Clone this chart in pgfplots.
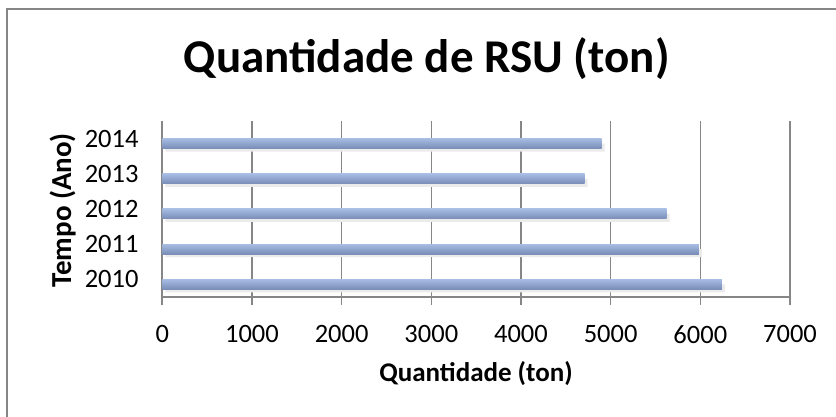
\documentclass[border=0pt]{standalone}
\usepackage{fontspec}
\setmainfont{Carlito}
\usepackage{pgfplots}
\pgfplotsset{compat=1.18}

\definecolor{gridgray}{RGB}{134,134,134}
\definecolor{bartop}{RGB}{166,188,226}
\definecolor{barbot}{RGB}{120,140,182}

\pgfplotsset{
    rsubar/.style={xbar, bar width=10pt, bar shift=-5pt, draw=none,
        top color=bartop, bottom color=barbot},
    rsushadow/.style={xbar, bar width=8pt, bar shift=-9pt, draw=none,
        fill=black!8, xshift=3pt, forget plot},
}

\begin{document}
\begin{tikzpicture}
\useasboundingbox (0,0) rectangle (836pt,417pt);
\draw[gridgray, line width=1.5pt] (7pt,408pt) rectangle (900pt,-50pt);

\begin{axis}[
    at={(162.3pt,120pt)}, anchor=south west,
    scale only axis, width=627.7pt, height=176pt,
    xmin=0, xmax=7000, ymin=0.5, ymax=5.5,
    axis x line=bottom, axis y line=left,
    axis line style={-, gridgray, line width=1.6pt},
    xtick={0,1000,...,7000},
    ytick={1,2,3,4,5},
    yticklabels={2010,2011,2012,2013,2014},
    xmajorgrids,
    grid style={gridgray, line width=1.6pt},
    tick align=outside, major tick length=8pt,
    xtick style={gridgray, line width=1.6pt},
    ytick style={draw=none},
    /pgf/number format/1000 sep={},
    /pgf/number format/assume math mode=true,
    tick label style={font=\fontsize{26.5}{29}\selectfont, text=black},
    xticklabel style={inner sep=0pt, yshift=-20pt},
    yticklabel style={inner sep=0pt, anchor=east, xshift=-15.6pt},
    clip=false,
]
% shadows
\addplot[rsushadow] coordinates {(6240,1) (5985,2) (5625,3) (4710,4) (4900,5)};
% one plot per year so that each bar gets its own gradient
\addplot[rsubar] coordinates {(6240,1)};
\addplot[rsubar] coordinates {(5985,2)};
\addplot[rsubar] coordinates {(5625,3)};
\addplot[rsubar] coordinates {(4710,4)};
\addplot[rsubar] coordinates {(4900,5)};
\end{axis}

\node[anchor=base, font=\fontsize{47}{52}\selectfont\bfseries] at (426.7pt,344.3pt) {Quantidade de RSU (ton)};
\node[anchor=base, font=\fontsize{27}{30}\selectfont\bfseries] at (476pt,35.3pt) {Quantidade (ton)};
\node[anchor=base, rotate=90, font=\fontsize{29}{32}\selectfont\bfseries] at (71pt,206.5pt) {Tempo (Ano)};
\end{tikzpicture}
\end{document}
